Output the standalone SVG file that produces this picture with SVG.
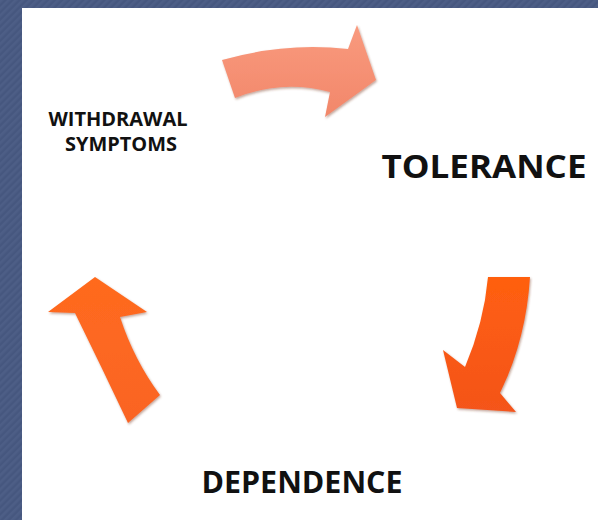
<svg xmlns="http://www.w3.org/2000/svg" width="598" height="520" viewBox="0 0 598 520">
  <defs>
    <pattern id="stripes" width="5" height="5" patternUnits="userSpaceOnUse" patternTransform="rotate(45)">
      <rect width="5" height="5" fill="#46577f"/>
      <rect width="2.5" height="5" fill="#4d5e86"/>
    </pattern>
    <linearGradient id="gTop" x1="0" y1="0" x2="0" y2="1">
      <stop offset="0" stop-color="#f99a7e"/>
      <stop offset="1" stop-color="#f2876a"/>
    </linearGradient>
    <linearGradient id="gRight" x1="0" y1="0" x2="0" y2="1">
      <stop offset="0" stop-color="#ff5f10"/>
      <stop offset="1" stop-color="#f4541a"/>
    </linearGradient>
    <linearGradient id="gLeft" x1="0" y1="0" x2="0" y2="1">
      <stop offset="0" stop-color="#ff6a1e"/>
      <stop offset="1" stop-color="#fa6424"/>
    </linearGradient>
    <filter id="sh" x="-10%" y="-10%" width="130%" height="130%">
      <feDropShadow dx="1" dy="1.5" stdDeviation="1.2" flood-color="#7a3a20" flood-opacity="0.45"/>
    </filter>
  </defs>
  <style>
    .lbl { font-family: "Open Sans", "Liberation Sans", sans-serif; font-weight: bold; fill: #111111; text-anchor: middle; }
    .arrow { filter: url(#sh); }
  </style>
  <rect x="0" y="0" width="598" height="520" fill="url(#stripes)"/>
  <rect x="22" y="8" width="576" height="512" fill="#ffffff"/>

  <g id="connectors">
    <path id="arrow-top" class="arrow" fill="url(#gTop)" d="M222,60 Q285,42 348,49 L357,25 L376,80 L325,117 L330,92 Q282,79 235,98 Z"/>
    <path id="arrow-right" class="arrow" fill="url(#gRight)" d="M488,277 L530,277 Q526,340 500,393 L516,412 L457,408 L443,350 L465,367 Q484,322 488,277 Z"/>
    <path id="arrow-left" class="arrow" fill="url(#gLeft)" d="M95,277 L147,312 L120,317 Q134,360 160,395 L128,423 Q102,368 75,313 L48,312 Z"/>
  </g>

  <g id="node-withdrawal">
    <text class="lbl" x="118" y="126" font-size="19" textLength="139" lengthAdjust="spacingAndGlyphs">WITHDRAWAL</text>
    <text class="lbl" x="121" y="151" font-size="19" textLength="112" lengthAdjust="spacingAndGlyphs">SYMPTOMS</text>
  </g>
  <g id="node-tolerance">
    <text class="lbl" x="484" y="178" font-size="33" textLength="205" lengthAdjust="spacingAndGlyphs">TOLERANCE</text>
  </g>
  <g id="node-dependence">
    <text class="lbl" x="302" y="493" font-size="30" textLength="201" lengthAdjust="spacingAndGlyphs">DEPENDENCE</text>
  </g>
</svg>
